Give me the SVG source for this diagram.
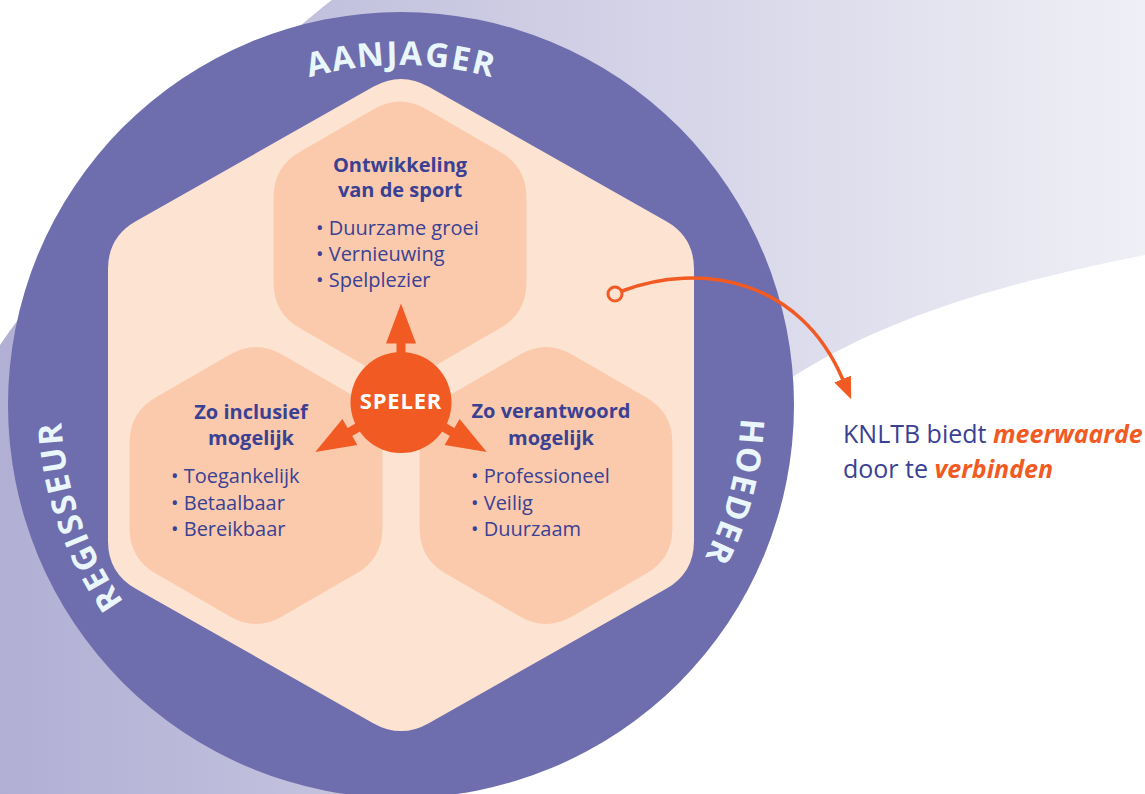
<svg xmlns="http://www.w3.org/2000/svg" xmlns:xlink="http://www.w3.org/1999/xlink" width="1145" height="794" viewBox="0 0 1145 794">
  <defs>
    <style>
      .sans { font-family: "Open Sans", "Noto Sans", "Liberation Sans", sans-serif; }
      .title { font-family: "Open Sans", "Noto Sans", sans-serif; font-weight: 700; font-size: 20px; fill: #3a4193; text-anchor: middle; }
      .item { font-family: "Open Sans", "Noto Sans", sans-serif; font-weight: 400; font-size: 20px; fill: #3a4193; }
      .arc { font-family: "Open Sans", "Noto Sans", sans-serif; font-weight: 700; font-size: 33px; fill: #e9f6fb; letter-spacing: 2px; }
      .side { font-family: "Open Sans", "Noto Sans", sans-serif; font-weight: 400; font-size: 25px; fill: #3a4193; }
      .em { font-weight: 700; font-style: italic; fill: #f15a22; }
      .hexin { fill: #fbcaad; }
      .orange { fill: #f15a22; }
    </style>
    <linearGradient id="bandGrad" x1="0" y1="0" x2="1145" y2="0" gradientUnits="userSpaceOnUse">
      <stop offset="0" stop-color="#b1afd4"/>
      <stop offset="1" stop-color="#efeff6"/>
    </linearGradient>
    <path id="hex" d="M26,-131 L100.4,-88 Q126.4,-73 126.4,-43 L126.4,43 Q126.4,73 100.4,88 L26,131 Q0,146 -26,131 L-100.4,88 Q-126.4,73 -126.4,43 L-126.4,-43 Q-126.4,-73 -100.4,-88 L-26,-131 Q0,-146 26,-131 Z"/>
    <g id="arrow">
      <rect x="-4.5" y="-62" width="9" height="16"/>
      <path d="M-15,-59 L15,-59 L0,-99 Z"/>
    </g>
    <path id="textCircle" d="M401,745 A340,340 0 1 1 401,65 A340,340 0 1 1 401,745"/>
    <marker id="head" viewBox="0 0 22 18" refX="1" refY="9" markerWidth="22" markerHeight="18" markerUnits="userSpaceOnUse" orient="auto">
      <path d="M0,0 L22,9 L0,18 Z" fill="#f15a22"/>
    </marker>
  </defs>

  <rect width="1145" height="794" fill="#ffffff"/>
  <g id="background">
    <path d="M345,-10 L1160,-10 L1160,252 C1000,283 880,318 780,385 L380,810 L-10,810 L-10,360 C60,250 250,60 345,-10 Z" fill="url(#bandGrad)"/>
  </g>

  <g id="ring">
    <circle cx="401" cy="405" r="393" fill="#6e6dad"/>
  </g>

  <g id="hex-outer">
    <path d="M428.8,86.8 L666.2,221.2 Q694,237 694,269 L694,541 Q694,573 666.2,588.8 L428.8,723.2 Q401,739 373.2,723.2 L135.8,588.8 Q108,573 108,541 L108,269 Q108,237 135.8,221.2 L373.2,86.8 Q401,71 428.8,86.8 Z" fill="#fde3d2"/>
  </g>

  <g id="node-ontwikkeling">
    <use xlink:href="#hex" href="#hex" class="hexin" transform="translate(400,240)"/>
    <text class="title" x="400" y="172">Ontwikkeling</text>
    <text class="title" x="400" y="197">van de sport</text>
    <text class="item" x="316" y="235">• Duurzame groei</text>
    <text class="item" x="316" y="261">• Vernieuwing</text>
    <text class="item" x="316" y="287">• Spelplezier</text>
  </g>

  <g id="node-inclusief">
    <use xlink:href="#hex" href="#hex" class="hexin" transform="translate(256,485.5)"/>
    <text class="title" x="251" y="419">Zo inclusief</text>
    <text class="title" x="251" y="445">mogelijk</text>
    <text class="item" x="171" y="483">• Toegankelijk</text>
    <text class="item" x="171" y="510">• Betaalbaar</text>
    <text class="item" x="171" y="536">• Bereikbaar</text>
  </g>

  <g id="node-verantwoord">
    <use xlink:href="#hex" href="#hex" class="hexin" transform="translate(546,485.5)"/>
    <text class="title" x="551" y="418">Zo verantwoord</text>
    <text class="title" x="551" y="445">mogelijk</text>
    <text class="item" x="471" y="483">• Professioneel</text>
    <text class="item" x="471" y="510">• Veilig</text>
    <text class="item" x="471" y="536">• Duurzaam</text>
  </g>

  <g id="node-speler">
    <g class="orange" transform="translate(401,402.5)">
      <use xlink:href="#arrow" href="#arrow"/>
      <use xlink:href="#arrow" href="#arrow" transform="rotate(-120)"/>
      <use xlink:href="#arrow" href="#arrow" transform="rotate(120)"/>
      <circle r="50.5"/>
    </g>
    <text x="401" y="409" class="sans" font-size="22" font-weight="700" fill="#ffffff" text-anchor="middle" letter-spacing="0.8">SPELER</text>
  </g>

  <g id="roles">
    <text class="arc"><textPath xlink:href="#textCircle" href="#textCircle" startOffset="421" text-anchor="middle">REGISSEUR</textPath></text>
    <text class="arc"><textPath xlink:href="#textCircle" href="#textCircle" startOffset="1068" text-anchor="middle">AANJAGER</textPath></text>
    <text class="arc"><textPath xlink:href="#textCircle" href="#textCircle" startOffset="1688" text-anchor="middle">HOEDER</textPath></text>
  </g>

  <g id="connectors">
    <path d="M622,291 C700,262 800,278 843,380" fill="none" stroke="#f15a22" stroke-width="3.5" marker-end="url(#head)"/>
    <circle cx="615" cy="294" r="7" fill="#fde3d2" stroke="#f15a22" stroke-width="3"/>
  </g>

  <g id="statement">
    <text class="side" x="843" y="443">KNLTB biedt <tspan class="em">meerwaarde</tspan></text>
    <text class="side" x="843" y="478">door te <tspan class="em">verbinden</tspan></text>
  </g>
</svg>
